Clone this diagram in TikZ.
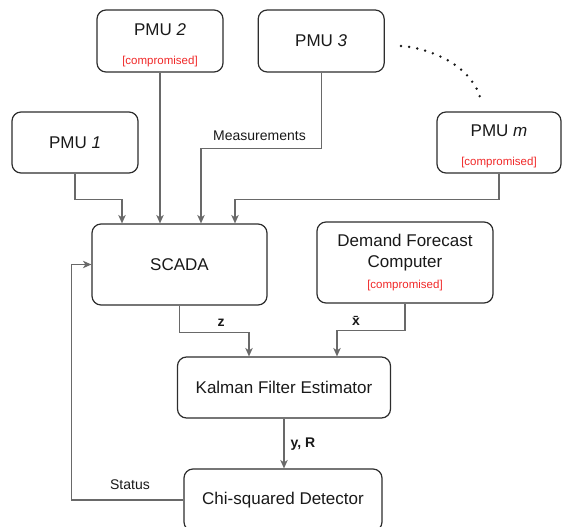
\documentclass[tikz,border=0pt]{standalone}
\usepackage{fontspec}
\setmainfont{Liberation Sans}
\usepackage{xcolor}
\usepackage{tikz}
\usetikzlibrary{positioning, arrows.meta}

\definecolor{attacked}{RGB}{240,40,40}
\definecolor{wire}{RGB}{105,105,105}
\definecolor{frame}{RGB}{45,45,45}

\newcommand{\compromisedtag}{{\color{attacked}\fontsize{11.5}{13}\selectfont [compromised]}}

\begin{document}
\begin{tikzpicture}[
  x=1pt, y=-1pt,
  block/.style={rectangle, draw=frame, line width=1.2pt, rounded corners=9pt, align=center, inner sep=0pt, text=black!90, font=\fontsize{17}{21}\selectfont},
  wirelbl/.style={font=\fontsize{14}{16}\selectfont, text=black!90},
  arrow/.style={-{Stealth[length=8.5pt, width=7.5pt, inset=2.5pt]}, draw=wire, line width=1.2pt},
  dots/.style={draw=black!90, line width=2.7pt, line cap=round, dash pattern=on 0pt off 8.2pt}
]
\useasboundingbox (0,0) rectangle (562,527);

% measurement units
\node[block, minimum width=126pt, minimum height=61pt] (pmu1) at (75,142.5) {PMU \textit{1}};
\node[block, minimum width=126pt, minimum height=62pt] (pmu2) at (160,41) {\rule{0pt}{20pt}PMU \textit{2}\\[8pt]\compromisedtag};
\node[block, minimum width=126pt, minimum height=62pt, right=34pt of pmu2] (pmu3) {PMU \textit{3}};
\node[block, minimum width=124pt, minimum height=61pt] (pmum) at (499,142.5) {\rule{0pt}{20pt}PMU \textit{m}\\[8pt]\compromisedtag};
\draw[dots] (401,46) .. controls (430,48) and (470,65) .. (480,97);

% control centre
\node[block, minimum width=175pt, minimum height=81pt] (scada) at (179.5,264.5) {SCADA};
\node[block, minimum width=176pt, minimum height=81pt] (forecast) at (405,262.5) {Demand Forecast\\Computer\\\compromisedtag};
\node[block, minimum width=213pt, minimum height=61pt] (kalman) at (284,387.5) {Kalman Filter Estimator};
\node[block, minimum width=198pt, minimum height=62pt] (detector) at (283,500) {Chi-squared Detector};

% PMUs -> SCADA
\draw[arrow] (pmu1.south) -- ++(0,26) -| ([xshift=-57.5pt]scada.north);
\draw[arrow] (pmu2.south) -- (pmu2.south |- scada.north);
\draw[arrow] (pmu3.south) -- ++(0,76) -| ([xshift=21.5pt]scada.north);
\draw[arrow] (pmum.south) -- ++(0,26) -| ([xshift=55.5pt]scada.north);
\node[wirelbl] (measlbl) at (259.5,136) {Measurements};

% estimator chain
\draw[arrow] (scada.south) -- ++(0,27) -| ([xshift=-35pt]kalman.north);
\draw[arrow] (forecast.south) -- ++(0,27) -| ([xshift=53pt]kalman.north);
\node[wirelbl, font=\fontsize{14}{16}\selectfont\bfseries] (zlbl) at (221,323) {z};
\node[wirelbl, font=\fontsize{14}{16}\selectfont\bfseries] (xlbl) at (356,321) {\=x};
\draw[arrow] (kalman.south) -- (kalman.south |- detector.north);
\node[wirelbl, font=\fontsize{14}{16}\selectfont\bfseries] (yrlbl) at (303,444) {y, R};

% feedback
\draw[arrow] (detector.west) -- ++(-112,0) |- (scada.west);
\node[wirelbl] (statuslbl) at (130,485) {Status};

\end{tikzpicture}
\end{document}
